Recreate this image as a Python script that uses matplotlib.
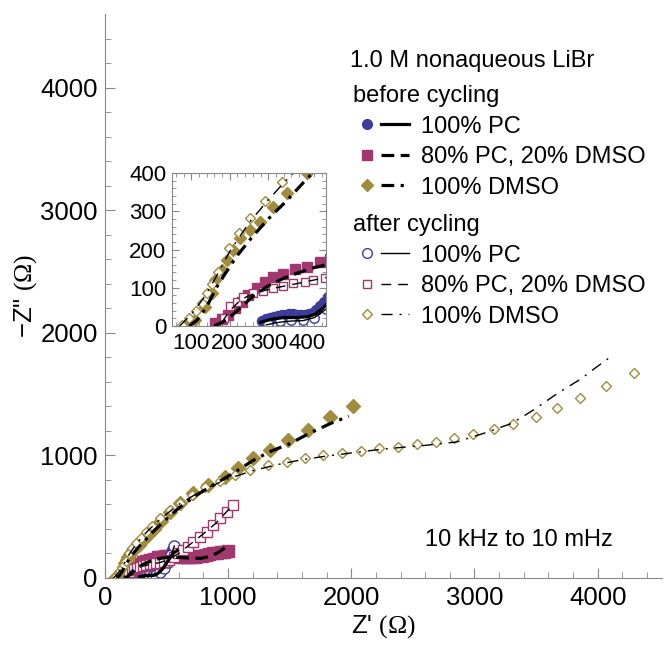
import numpy as np
import matplotlib.pyplot as plt
from matplotlib.lines import Line2D
from matplotlib.legend_handler import HandlerTuple

plt.rcParams['font.family'] = ['Liberation Sans', 'DejaVu Sans']
plt.rcParams['mathtext.fontset'] = 'custom'
plt.rcParams['mathtext.rm'] = 'Liberation Serif'

# colores
blue = '#3c3c9b'
magenta = '#a0376e'
olive = '#a08c3c'

# --- antes del ciclado (marcadores llenos) ---
pc_b_x = [285, 295, 305, 315, 325, 335, 345, 355, 365, 375, 385, 395, 405, 415, 425, 435,
          445, 455, 465, 475, 485, 495, 505, 515, 525, 535, 545, 555]
pc_b_y = [14, 17, 20, 23, 26, 28, 30, 31, 31, 30, 29, 29, 31, 35, 42, 52,
          62, 75, 88, 102, 117, 132, 148, 164, 180, 196, 212, 226]

mix_b_x = [162, 179, 196, 213, 231, 248, 270, 291, 313, 339, 369, 400, 434, 460, 490, 520,
           550, 580, 610, 640, 670, 700, 730, 760, 790, 820, 850, 880, 910, 940, 970, 1000]
mix_b_y = [7, 17, 29, 46, 64, 81, 99, 116, 129, 137, 148, 155, 168, 175, 180, 182,
           182, 178, 174, 170, 169, 170, 172, 176, 180, 186, 193, 200, 205, 210, 214, 218]

dmso_b_x = [84, 110, 136, 153, 162, 179, 192, 209, 227, 252, 278, 312, 348, 400, 460, 530,
            611, 719, 840, 976, 1084, 1205, 1341, 1489, 1651, 1827, 2011]
dmso_b_y = [1, 16, 50, 86, 120, 146, 172, 199, 230, 250, 272, 311, 347, 400, 462, 535,
            615, 695, 760, 826, 894, 975, 1043, 1125, 1206, 1315, 1404]

# --- despues del ciclado (marcadores vacios) ---
pc_a_x = [300, 330, 360, 390, 420, 450, 480, 510, 540, 565]
pc_a_y = [5, 12, 15, 15, 22, 45, 80, 130, 190, 265]

mix_a_x = [185, 201, 218, 235, 261, 287, 313, 339, 365, 395, 417, 448, 480, 520, 560,
           597, 638, 678, 719, 773, 827, 881, 935, 989, 1043]
mix_a_y = [20, 51, 64, 77, 85, 92, 99, 105, 112, 116, 120, 125, 132, 145, 170,
           201, 228, 255, 296, 337, 378, 432, 486, 540, 595]

dmso_a_x = [75, 95, 112, 127, 140, 153, 170, 199, 225, 253, 292, 335, 380, 448, 530, 611,
            705, 810, 935, 1057, 1178, 1327, 1476, 1624, 1773, 1922, 2076, 2227, 2381,
            2530, 2687, 2835, 2989, 3157, 3314, 3498, 3671, 3860, 4071, 4293]
dmso_a_y = [2, 20, 40, 59, 85, 110, 140, 203, 244, 282, 328, 377, 425, 490, 554, 609,
            676, 740, 795, 839, 880, 921, 948, 975, 1002, 1016, 1037, 1057, 1070,
            1090, 1108, 1139, 1174, 1212, 1255, 1315, 1383, 1467, 1565, 1676]

# --- ajustes ---
fit_pc_b_x = [280, 310, 340, 370, 400, 420, 440, 460, 480, 500, 520, 540, 560, 590]
fit_pc_b_y = [10, 18, 22, 22, 24, 30, 45, 65, 90, 120, 150, 180, 205, 225]
fit_mix_b_x = [160, 190, 220, 260, 300, 340, 380, 420, 460, 520, 600, 700, 780, 850, 908, 950, 990]
fit_mix_b_y = [0, 15, 40, 78, 105, 125, 140, 153, 162, 168, 168, 162, 160, 175, 201, 228, 258]
fit_dmso_b_x = [95, 115, 140, 165, 190, 220, 260, 300, 350, 400, 500, 600, 750, 900, 1050,
                1205, 1350, 1500, 1650, 1830, 1980]
fit_dmso_b_y = [0, 15, 50, 100, 140, 185, 235, 280, 330, 385, 480, 570, 680, 770, 860,
                960, 1035, 1095, 1175, 1260, 1320]

fit_pc_a_x = [295, 330, 360, 390, 420, 450, 480, 510, 540, 565]
fit_pc_a_y = [3, 10, 13, 14, 22, 44, 80, 128, 188, 262]
fit_mix_a_x = [180, 200, 230, 270, 320, 380, 450, 520, 600, 700, 800, 900, 1030]
fit_mix_a_y = [10, 40, 70, 88, 100, 112, 127, 150, 200, 280, 360, 445, 585]
fit_dmso_a_x = [70, 100, 130, 160, 200, 250, 300, 350, 450, 600, 800, 1000, 1200, 1400, 1600,
                1800, 2000, 2200, 2400, 2600, 2855, 3071, 3301, 3476, 3679, 3868, 3963, 4085]
fit_dmso_a_y = [0, 30, 70, 120, 195, 270, 330, 385, 480, 600, 720, 810, 875, 925, 965,
                995, 1020, 1045, 1065, 1082, 1110, 1179, 1261, 1369, 1510, 1627, 1701, 1790]

thick = 2.3
thin = 1.0
dash_b = (4, 2)
dashdot_b = (4, 2, 1, 2)
dash_a = (7, 5)
dashdot_a = (8, 5, 1.5, 5)


def dibujar(a, s):
    a.plot(pc_b_x, pc_b_y, ls='none', marker='o', ms=8.5 * s, color=blue, mec=blue)
    a.plot(mix_b_x, mix_b_y, ls='none', marker='s', ms=8 * s, color=magenta, mec=magenta)
    a.plot(dmso_b_x, dmso_b_y, ls='none', marker='D', ms=7.5 * s, color=olive, mec=olive)
    a.plot(pc_a_x, pc_a_y, ls='none', marker='o', ms=8 * s, mfc='white', mec=blue, mew=1)
    a.plot(mix_a_x, mix_a_y, ls='none', marker='s', ms=6.5 * s, mfc='white', mec=magenta, mew=1)
    a.plot(dmso_a_x, dmso_a_y, ls='none', marker='D', ms=5.5 * s, mfc='white', mec=olive, mew=1)
    a.plot(fit_pc_b_x, fit_pc_b_y, color='black', lw=thick)
    a.plot(fit_mix_b_x, fit_mix_b_y, color='black', lw=thick, dashes=dash_b)
    a.plot(fit_dmso_b_x, fit_dmso_b_y, color='black', lw=thick, dashes=dashdot_b)
    a.plot(fit_pc_a_x, fit_pc_a_y, color='black', lw=thin)
    a.plot(fit_mix_a_x, fit_mix_a_y, color='black', lw=thin, dashes=dash_a)
    a.plot(fit_dmso_a_x, fit_dmso_a_y, color='black', lw=thin, dashes=dashdot_a)


fig = plt.figure(figsize=(6.64, 6.45), dpi=100)
ax = fig.add_axes([0.1577, 0.1039, 0.839, 0.874])
dibujar(ax, 1.0)
ax.set_xlim(0, 4520)
ax.set_ylim(0, 4600)
ax.set_xticks([0, 1000, 2000, 3000, 4000])
ax.set_yticks([0, 1000, 2000, 3000, 4000])
ax.set_xticks(np.arange(0, 4520, 200), minor=True)
ax.set_yticks(np.arange(0, 4600, 200), minor=True)
ax.spines['top'].set_visible(False)
ax.spines['right'].set_visible(False)
for sp in ['left', 'bottom']:
    ax.spines[sp].set_color('#888888')
    ax.spines[sp].set_linewidth(0.8)
ax.tick_params(which='both', direction='in', color='#888888', labelsize=18.5)
ax.tick_params(which='major', length=7)
ax.tick_params(which='minor', length=4)
ax.tick_params(axis='x', pad=6)
ax.tick_params(axis='y', pad=5)
ax.set_xlabel("Z' $(\\mathrm{\\Omega})$", fontsize=18.5, labelpad=2)
ax.set_ylabel('\u2212Z" $(\\mathrm{\\Omega})$', fontsize=18.5, labelpad=1)

# recuadro
ins = fig.add_axes([0.259, 0.4946, 0.232, 0.237])
dibujar(ins, 0.85)
ins.set_xlim(50, 450)
ins.set_ylim(0, 400)
ins.set_xticks([100, 200, 300, 400])
ins.set_yticks([0, 100, 200, 300, 400])
ins.set_xticks(np.arange(60, 451, 20), minor=True)
ins.set_yticks(np.arange(0, 401, 20), minor=True)
for sp in ins.spines.values():
    sp.set_color('#888888')
    sp.set_linewidth(0.8)
ins.tick_params(which='both', direction='in', top=True, right=True, color='#888888', labelsize=16)
ins.tick_params(which='major', length=5)
ins.tick_params(which='minor', length=3)
ins.tick_params(axis='x', pad=5)
ins.tick_params(axis='y', pad=4)

# leyenda
def entrada(mk, ms, lleno, color, ls, lw):
    if lleno:
        m = Line2D([], [], ls='none', marker=mk, ms=ms, color=color)
    else:
        m = Line2D([], [], ls='none', marker=mk, ms=ms, mfc='white', mec=color, mew=1)
    if ls is None:
        l = Line2D([], [], color='black', lw=lw)
    else:
        l = Line2D([], [], color='black', lw=lw, dashes=ls)
    return (m, l)

labels = ['100% PC', '80% PC, 20% DMSO', '100% DMSO']
h_before = [entrada('o', 7, True, blue, None, thick),
            entrada('s', 6.5, True, magenta, dash_b, thick),
            entrada('D', 6.5, True, olive, dashdot_b, thick)]
h_after = [entrada('o', 7, False, blue, None, thin),
           entrada('s', 6, False, magenta, dash_a, thin),
           entrada('D', 5, False, olive, dashdot_a, thin)]

opts = dict(handler_map={tuple: HandlerTuple(ndivide=None, pad=0)}, loc='upper left',
            bbox_transform=fig.transFigure, frameon=False, fontsize=17, title_fontsize=17,
            alignment='left', handlelength=2.4, handletextpad=0.5, labelspacing=0.36,
            borderpad=0, borderaxespad=0)
leg1 = ax.legend(h_before, labels, title='before cycling', bbox_to_anchor=(0.531, 0.868), **opts)
ax.add_artist(leg1)
leg2 = ax.legend(h_after, labels, title='after cycling', bbox_to_anchor=(0.531, 0.668), **opts)

fig.text(0.527, 0.906, '1.0 M nonaqueous LiBr', fontsize=17, va='center')
fig.text(0.640, 0.163, '10 kHz to 10 mHz', fontsize=17, va='center')

fig.savefig('out.png', dpi=100)
